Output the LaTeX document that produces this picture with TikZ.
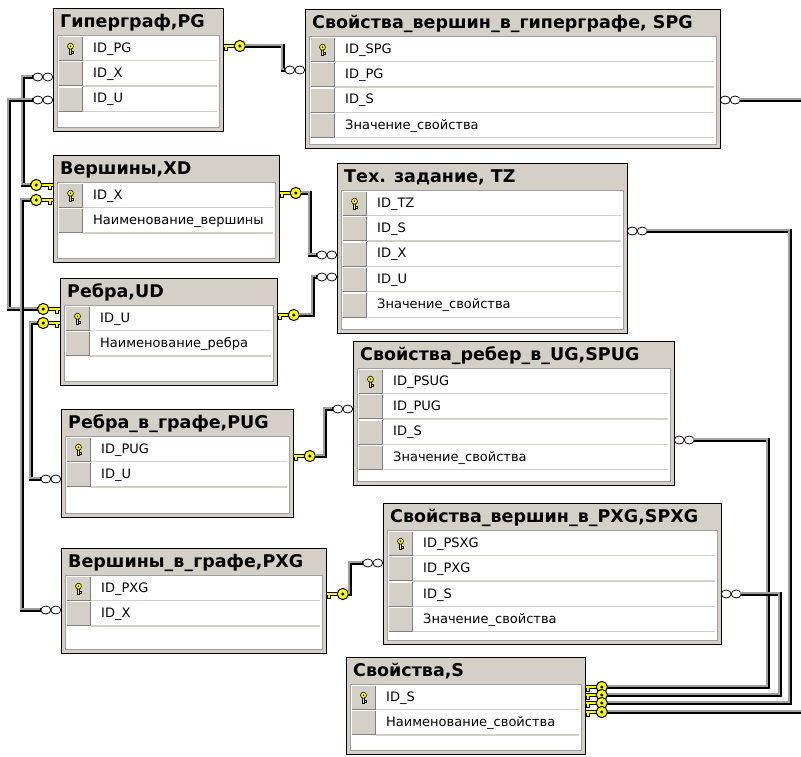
\documentclass[tikz,border=0pt]{standalone}
\usepackage{fontspec}
\setmainfont{DejaVu Sans}
\usetikzlibrary{calc}

\definecolor{tblgray}{HTML}{D4D0C8}
\definecolor{keyyellow}{HTML}{FFFF00}
\definecolor{linegray}{HTML}{A0A0A0}
\definecolor{shadowgray}{HTML}{808080}

\tikzset{
  tablebox/.style={rectangle, draw=black, line width=1pt, fill=tblgray, inner sep=0pt, outer sep=0pt},
  tabtitle/.style={font=\fontsize{17.5}{20}\selectfont\bfseries, inner sep=0pt, anchor=west},
  rowtext/.style={font=\fontsize{13}{15}\selectfont, inner sep=0pt, anchor=west},
  panel/.style={fill=white, draw=linegray, line width=0.8pt},
  sepline/.style={draw=tblgray, line width=1.3pt},
  % foreign-key end of a relationship (the "one" side)
  fkey/.pic={
    \draw[line width=0.8pt, fill=keyyellow]
      (0,-1.8) -- (12,-1.8) -- (12,1.8) -- (4.2,1.8) -- (4.2,4.2) -- (1.5,4.2) -- (1.5,1.8) -- (0,1.8) -- cycle;
    \draw[line width=1pt, fill=keyyellow] (16.8,0) circle (5.6);
    \fill[black] (16.8,0) circle (1.7);
    \coordinate (-end) at (22.4,0);
  },
  % infinity end of a relationship (the "many" side)
  many/.pic={
    \draw[line width=0.8pt, fill=white] (5.2,0) ellipse (5 and 4);
    \draw[line width=0.8pt, fill=white] (15.2,0) ellipse (5 and 4);
    \coordinate (-end) at (20.2,0);
  },
  % small primary-key glyph inside the row selector
  pkicon/.pic={
    \draw[line width=0.5pt, fill=keyyellow] (-1.1,-0.5) rectangle (1.1,5.5);
    \draw[line width=0.5pt, fill=keyyellow] (1.1,2.3) rectangle (2.6,3.8);
    \draw[line width=0.6pt, fill=keyyellow] (0,-3) circle (3);
    \fill[black] (0,-3) circle (0.8);
  }
}

% #1 id, #2 left, #3 top, #4 right, #5 bottom, #6 title, #7 columns
\newcommand\dbtable[7]{%
  \node[tablebox, anchor=north west,
        minimum width={(#4-#2)*1pt}, minimum height={(#5-#3)*1pt}] (#1) at (#2,#3) {};
  \path[panel] ({#2+4},{#3+27.5}) rectangle ({#4-4},{#5-4});
  \node[tabtitle] (#1-title) at ({#2+7},{#3+14.5}) {#6};
  \foreach \txt [count=\i] in {#7} {
    \pgfmathsetmacro\ry{#3+28+(\i-1)*25.4}
    \fill[tblgray] ({#2+5},\ry) rectangle ({#2+30},{\ry+25});
    \draw[white, line width=1pt] ({#2+5.5},{\ry+24.5}) |- ({#2+29.5},{\ry+0.5});
    \draw[shadowgray, line width=1pt] ({#2+5.5},{\ry+24.5}) -| ({#2+29.5},{\ry+0.5});
    \draw[sepline] ({#2+30},{\ry+24.6}) -- ({#4-6},{\ry+24.6});
    \node[rowtext] (#1-r\i) at ({#2+40},{\ry+12.9}) {\txt};
  }
  \pic at ({#2+17.5},{#3+28+13.2}) {pkicon};
}

% relationship line: dark body with a grey highlight on its upper-left side
\newcommand\relline[1]{%
  \draw[line width=3.4pt, black, line join=miter] #1;
  \draw[line width=1.6pt, linegray, line join=miter, transform canvas={shift={(-0.9pt,0.9pt)}}] #1;
}

\begin{document}
\begin{tikzpicture}[x=1pt, y=-1pt]
\useasboundingbox (0,0) rectangle (801,756);
\clip (0,0) rectangle (801,756);
\fill[white] (0,0) rectangle (801,756);

% ---------- tables ----------
\dbtable{pg}{53}{8}{223}{131}{Гиперграф,PG}{ID\_PG,ID\_X,ID\_U}
\dbtable{spg}{305}{9}{720}{148}{Свойства\_вершин\_в\_гиперграфе, SPG}{ID\_SPG,ID\_PG,ID\_S,Значение\_свойства}
\dbtable{xd}{53}{155}{279}{262}{Вершины,XD}{ID\_X,Наименование\_вершины}
\dbtable{tz}{337}{163}{627}{333}{Тех. задание, TZ}{ID\_TZ,ID\_S,ID\_X,ID\_U,Значение\_свойства}
\dbtable{ud}{60}{278}{277}{385}{Ребра,UD}{ID\_U,Наименование\_ребра}
\dbtable{spug}{353}{341}{674}{485}{Свойства\_ребер\_в\_UG,SPUG}{ID\_PSUG,ID\_PUG,ID\_S,Значение\_свойства}
\dbtable{pug}{61}{409}{293}{517}{Ребра\_в\_графе,PUG}{ID\_PUG,ID\_U}
\dbtable{spxg}{383}{503}{721}{644}{Свойства\_вершин\_в\_PXG,SPXG}{ID\_PSXG,ID\_PXG,ID\_S,Значение\_свойства}
\dbtable{pxg}{61}{548}{326}{653}{Вершины\_в\_графе,PXG}{ID\_PXG,ID\_X}
\dbtable{s}{346}{657}{585}{754}{Свойства,S}{ID\_S,Наименование\_свойства}

% ---------- relationship ends ----------
\pic (pgk) at (223,46) {fkey};
\pic[xscale=-1] (spgm1) at (305,70) {many};
\pic[xscale=-1] (pgm1) at (53,77) {many};
\pic[xscale=-1] (pgm2) at (53,100) {many};
\pic[xscale=-1] (xdk1) at (53,185) {fkey};
\pic[xscale=-1] (xdk2) at (53,200) {fkey};
\pic (xdk3) at (279,193) {fkey};
\pic[xscale=-1] (udk1) at (60,309) {fkey};
\pic[xscale=-1] (udk2) at (60,323) {fkey};
\pic (udk3) at (277,315) {fkey};
\pic[xscale=-1] (tzm1) at (337,255) {many};
\pic[xscale=-1] (tzm2) at (337,277) {many};
\pic (tzm3) at (627,231) {many};
\pic (spgm2) at (720,100) {many};
\pic[xscale=-1] (pugm) at (61,479) {many};
\pic (pugk) at (293,456) {fkey};
\pic[xscale=-1] (spugm1) at (353,409) {many};
\pic (spugm2) at (674,440) {many};
\pic[xscale=-1] (pxgm) at (61,610) {many};
\pic (pxgk) at (326,594) {fkey};
\pic[xscale=-1] (spxgm1) at (383,563) {many};
\pic (spxgm2) at (721,594) {many};

% ---------- relationship lines ----------
\relline{(pgk-end) -| (283,60) |- (spgm1-end)}
\relline{(pgm1-end) -| (23,130) |- (xdk1-end)}
\relline{(pgm2-end) -| (9,200) |- (udk1-end)}
\relline{(xdk2-end) -| (22,400) |- (pxgm-end)}
\relline{(udk2-end) -| (31,400) |- (pugm-end)}
\relline{(xdk3-end) -| (310,220) |- (tzm1-end)}
\relline{(udk3-end) -| (313,300) |- (tzm2-end)}
\relline{(tzm3-end) -| (790,500) |- (607,703)}
\relline{(spgm2-end) -| (806,500) |- (607,712)}
\relline{(spugm2-end) -| (768,500) |- (607,687)}
\relline{(spxgm2-end) -| (780,650) |- (607,695)}
\relline{(pugk-end) -| (325,430) |- (spugm1-end)}
\relline{(pxgk-end) -| (350,580) |- (spxgm1-end)}

% keys of the property table, drawn over the incoming lines
\pic (sk1) at (585,687) {fkey};
\pic (sk2) at (585,695) {fkey};
\pic (sk3) at (585,703) {fkey};
\pic (sk4) at (585,712) {fkey};
\end{tikzpicture}
\end{document}
